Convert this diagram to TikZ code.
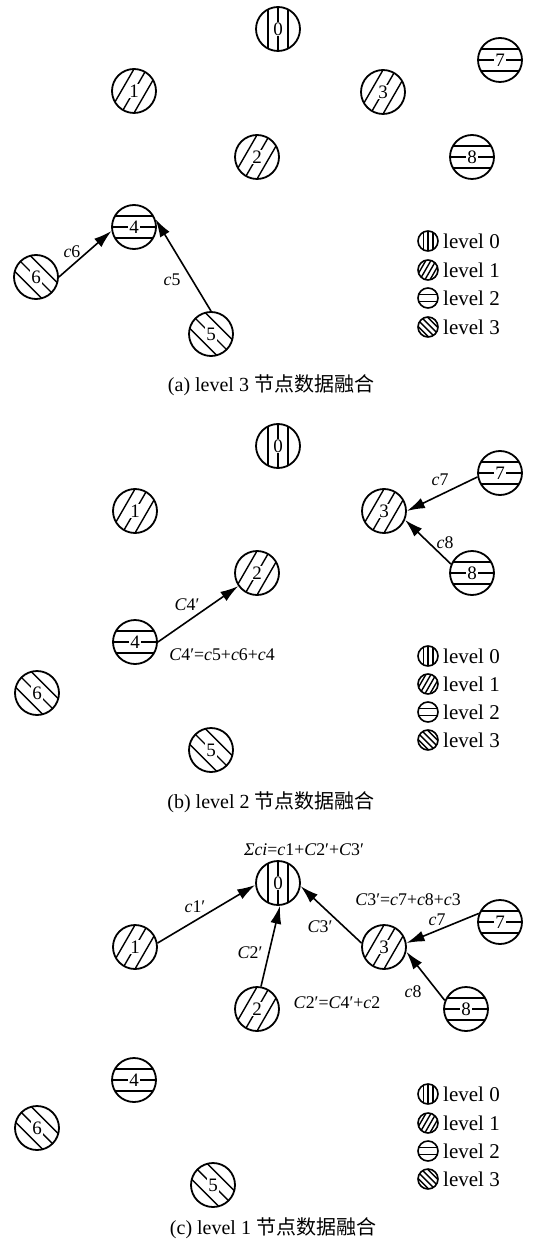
\documentclass[tikz,border=0pt]{standalone}
\usepackage{fontspec}
\setmainfont{Liberation Serif}
\newfontfamily\cjk{Noto Sans CJK SC}
\usetikzlibrary{arrows.meta, positioning, calc}
\newcommand{\hatchlines}[3]{%
  \foreach \d in {#2}
    \draw[line width=0.7pt]
      ($(path picture bounding box.center)+(#1:\d pt)+(#1+90:#3 pt)$) --
      ($(path picture bounding box.center)+(#1:\d pt)+(#1-90:#3 pt)$);}
\newcommand{\nodenum}[1]{{\setlength{\fboxsep}{0.5pt}\colorbox{white}{#1}}}
\tikzstyle{sensor} = [circle, draw, line width=0.9pt, minimum size=22pt, inner sep=0pt, font=\fontsize{9.5}{10}\selectfont]
\tikzstyle{lvzero} = [sensor, path picture={\hatchlines{0}{-5,0,5}{12}}]
\tikzstyle{lvone} = [sensor, path picture={\hatchlines{-30}{-5.5,0,5.5}{12}}]
\tikzstyle{lvtwo} = [sensor, path picture={\hatchlines{90}{-5.5,0,5.5}{12}}]
\tikzstyle{lvthree} = [sensor, path picture={\hatchlines{45}{-5.5,0,5.5}{12}}]
\tikzstyle{key} = [circle, draw, line width=0.8pt, minimum size=10pt, inner sep=0pt]
\tikzstyle{keyzero} = [key, path picture={\hatchlines{0}{-2.4,0,2.4}{6}}]
\tikzstyle{keyone} = [key, path picture={\hatchlines{-30}{-3.3,-1.1,1.1,3.3}{6}}]
\tikzstyle{keytwo} = [key, path picture={\hatchlines{90}{-1.7,1.7}{6}}]
\tikzstyle{keythree} = [key, path picture={\hatchlines{45}{-3.3,-1.1,1.1,3.3}{6}}]
\tikzstyle{keytext} = [inner sep=2pt, font=\fontsize{10.5}{12}\selectfont]
\tikzstyle{lbl} = [inner sep=0pt, font=\fontsize{8.9}{10}\selectfont]
\tikzstyle{caption} = [inner sep=0pt, font=\fontsize{10}{12}\selectfont]
\tikzstyle{link} = [line width=0.8pt, -{Latex[length=9pt,width=5.5pt]}]

\begin{document}
\begin{tikzpicture}[x=0.5pt, y=-0.5pt]
  \useasboundingbox (0,0) rectangle (533,1245);

  % (a)
  \node[lvzero] (a-0) at (278,29) {\nodenum{0}};
  \node[lvone] (a-1) at (134,91) {\nodenum{1}};
  \node[lvone] (a-2) at (257,157) {\nodenum{2}};
  \node[lvone] (a-3) at (383,92) {\nodenum{3}};
  \node[lvtwo] (a-4) at (134,227) {\nodenum{4}};
  \node[lvthree] (a-5) at (211,334) {\nodenum{5}};
  \node[lvthree] (a-6) at (36,277) {\nodenum{6}};
  \node[lvtwo] (a-7) at (500,60) {\nodenum{7}};
  \node[lvtwo] (a-8) at (472,157) {\nodenum{8}};

  \draw[link] (a-6.east) -- (a-4.190);
  \draw[link] (a-5.north) -- (a-4.20);
  \node[lbl] (a-c6) at (72,252) {\textit{c}6};
  \node[lbl] (a-c5) at (172,280) {\textit{c}5};

  \node[keyzero] (ka-0) at (428,241) {};
  \node[keyone] (ka-1) at (428,270) {};
  \node[keytwo] (ka-2) at (428,298) {};
  \node[keythree] (ka-3) at (428,327) {};
  \node[keytext, right=0pt of ka-0] (ta-0) {level 0};
  \node[keytext, right=0pt of ka-1] (ta-1) {level 1};
  \node[keytext, right=0pt of ka-2] (ta-2) {level 2};
  \node[keytext, right=0pt of ka-3] (ta-3) {level 3};

  \node[caption] (cap-a) at (271,385) {(a) level 3 {\cjk 节点数据融合}};

  % (b)
  \node[lvzero] (b-0) at (278,446) {\nodenum{0}};
  \node[lvone] (b-1) at (135,511) {\nodenum{1}};
  \node[lvone] (b-2) at (257,573) {\nodenum{2}};
  \node[lvone] (b-3) at (384,511) {\nodenum{3}};
  \node[lvtwo] (b-4) at (135,642) {\nodenum{4}};
  \node[lvthree] (b-5) at (211,750) {\nodenum{5}};
  \node[lvthree] (b-6) at (37,693) {\nodenum{6}};
  \node[lvtwo] (b-7) at (500,473) {\nodenum{7}};
  \node[lvtwo] (b-8) at (472,573) {\nodenum{8}};

  \draw[link] (b-4.east) -- (b-2.215);
  \draw[link] (b-7.190) -- (b-3.east);
  \draw[link] (b-8.157) -- (b-3.-23);
  \node[lbl] (b-c4) at (187,605) {\textit{C}4′};
  \node[lbl] (b-sum4) at (222,655) {\textit{C}4′=\textit{c}5+\textit{c}6+\textit{c}4};
  \node[lbl] (b-c7) at (440,480) {\textit{c}7};
  \node[lbl] (b-c8) at (445,543) {\textit{c}8};

  \node[keyzero] (kb-0) at (428,656) {};
  \node[keyone] (kb-1) at (428,684) {};
  \node[keytwo] (kb-2) at (428,712) {};
  \node[keythree] (kb-3) at (428,740) {};
  \node[keytext, right=0pt of kb-0] (tb-0) {level 0};
  \node[keytext, right=0pt of kb-1] (tb-1) {level 1};
  \node[keytext, right=0pt of kb-2] (tb-2) {level 2};
  \node[keytext, right=0pt of kb-3] (tb-3) {level 3};

  \node[caption] (cap-b) at (271,802) {(b) level 2 {\cjk 节点数据融合}};

  % (c)
  \node[lvzero] (c-0) at (278,883) {\nodenum{0}};
  \node[lvone] (c-1) at (135,947) {\nodenum{1}};
  \node[lvone] (c-2) at (257,1009) {\nodenum{2}};
  \node[lvone] (c-3) at (384,947) {\nodenum{3}};
  \node[lvtwo] (c-4) at (134,1080) {\nodenum{4}};
  \node[lvthree] (c-5) at (213,1185) {\nodenum{5}};
  \node[lvthree] (c-6) at (37,1128) {\nodenum{6}};
  \node[lvtwo] (c-7) at (500,922) {\nodenum{7}};
  \node[lvtwo] (c-8) at (466,1009) {\nodenum{8}};

  \draw[link] (c-1.10) -- (c-0.185);
  \draw[link] (c-2.80) -- (c-0.-85);
  \draw[link] (c-3.170) -- (c-0.-8);
  \draw[link] (c-7.158) -- (c-3.10);
  \draw[link] (c-8.158) -- (c-3.-12);
  \node[lbl] (c-c1) at (195,907) {\textit{c}1′};
  \node[lbl] (c-c2) at (250,953) {\textit{C}2′};
  \node[lbl] (c-c3) at (320,927) {\textit{C}3′};
  \node[lbl] (c-c7) at (437,920) {\textit{c}7};
  \node[lbl] (c-c8) at (413,992) {\textit{c}8};
  \node[lbl] (c-sum0) at (304,850) {\textit{Σci}=\textit{c}1+\textit{C}2′+\textit{C}3′};
  \node[lbl] (c-sum3) at (408,900) {\textit{C}3′=\textit{c}7+\textit{c}8+\textit{c}3};
  \node[lbl] (c-sum2) at (337,1003) {\textit{C}2′=\textit{C}4′+\textit{c}2};

  \node[keyzero] (kc-0) at (428,1094) {};
  \node[keyone] (kc-1) at (428,1123) {};
  \node[keytwo] (kc-2) at (428,1151) {};
  \node[keythree] (kc-3) at (428,1179) {};
  \node[keytext, right=0pt of kc-0] (tc-0) {level 0};
  \node[keytext, right=0pt of kc-1] (tc-1) {level 1};
  \node[keytext, right=0pt of kc-2] (tc-2) {level 2};
  \node[keytext, right=0pt of kc-3] (tc-3) {level 3};

  \node[caption] (cap-c) at (273,1228) {(c) level 1 {\cjk 节点数据融合}};
\end{tikzpicture}
\end{document}
